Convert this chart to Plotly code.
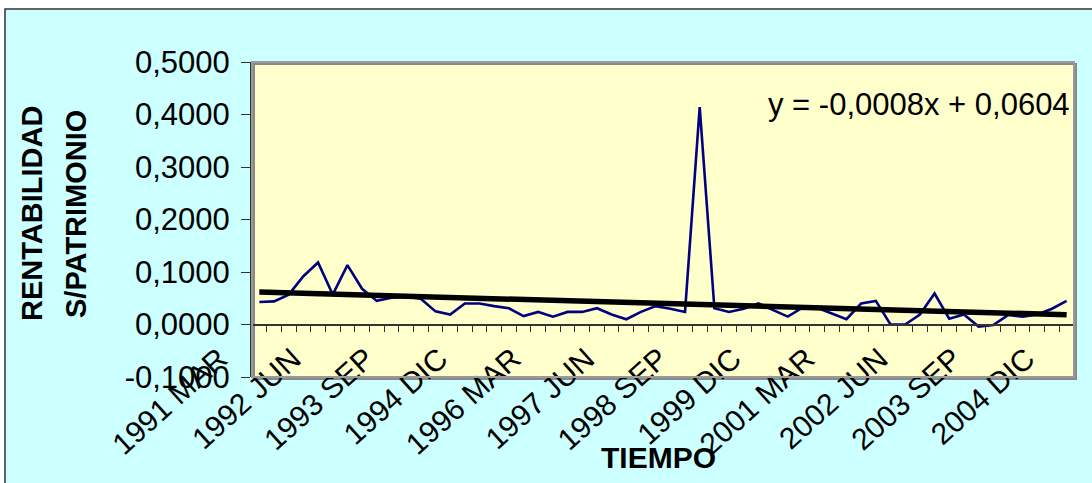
import numpy as np
import plotly.graph_objects as go

# ---------------- data ----------------
years = list(range(1991, 2005))
quarters = ["MAR", "JUN", "SEP", "DIC"]
categories = [f"{y} {q}" for y in years for q in quarters]  # 56 quarters

rentabilidad = [
    0.043, 0.044, 0.057, 0.092, 0.118, 0.057, 0.113, 0.068, 0.045, 0.051,
    0.053, 0.049, 0.025, 0.019, 0.040, 0.040, 0.035, 0.031, 0.016, 0.024,
    0.015, 0.024, 0.024, 0.031, 0.019, 0.010, 0.024, 0.035, 0.030, 0.024,
    0.414, 0.031, 0.024, 0.030, 0.040, 0.028, 0.015, 0.032, 0.032, 0.021,
    0.010, 0.040, 0.045, 0.000, 0.000, 0.019, 0.059, 0.011, 0.019, -0.004,
    -0.001, 0.018, 0.015, 0.019, 0.030, 0.045,
]

tick_labels = ["1991 MAR", "1992 JUN", "1993 SEP", "1994 DIC", "1996 MAR", "1997 JUN",
               "1998 SEP", "1999 DIC", "2001 MAR", "2002 JUN", "2003 SEP", "2004 DIC"]
tick_idx = [categories.index(t) for t in tick_labels]

y_tick_vals = [-0.1, 0.0, 0.1, 0.2, 0.3, 0.4, 0.5]
y_tick_text = ["-0,1000", "0,0000", "0,1000", "0,2000", "0,3000", "0,4000", "0,5000"]

equation_text = "y = -0,0008x + 0,0604"

# ---------------- figure ----------------
W, H = 1092, 483
L, R, T, B = 252, 18, 62, 106
PW, PH = W - L - R, H - T - B

def px_x(p):
    return (p - L) / PW

def px_y(p):
    return (H - B - p) / PH

x_idx = np.arange(len(categories))
# linear trend from least squares over the series (x = 1..n as in the equation)
coef = np.polyfit(x_idx + 1, np.array(rentabilidad), 1)
trend = np.polyval(coef, x_idx + 1)

FONT = "Arial, Liberation Sans, sans-serif"

fig = go.Figure()
fig.add_trace(go.Scatter(
    x=x_idx, y=rentabilidad, mode="lines",
    line=dict(color="#000080", width=2.6),
    text=categories, hoverinfo="text+y", showlegend=False,
))
fig.add_trace(go.Scatter(
    x=x_idx, y=trend, mode="lines",
    line=dict(color="#000000", width=5.5),
    hoverinfo="skip", showlegend=False,
))

fig.update_layout(
    width=W, height=H,
    margin=dict(l=L, r=R, t=T, b=B, pad=0),
    paper_bgcolor="#CCFFFF",
    plot_bgcolor="#FFFFCC",
    separators=",.",
    font=dict(family=FONT, color="#000000"),
    showlegend=False,
    xaxis=dict(
        range=[-0.5, len(categories) - 0.5],
        anchor="free", position=(0 - (-0.1)) / 0.6,
        showline=True, linecolor="#333333", linewidth=1.5,
        showgrid=False, zeroline=False,
        tickmode="array", tickvals=tick_idx, ticktext=tick_labels,
        ticks="", tickangle=-42,
        tickfont=dict(size=30, family=FONT, color="#000000"),
        ticklabelshift=-40, ticklabelstandoff=4,
        minor=dict(tickmode="array",
                   tickvals=[i - 0.5 for i in range(len(categories) + 1)],
                   ticks="outside", ticklen=7, tickcolor="#333333", tickwidth=1.2),
    ),
    yaxis=dict(
        range=[-0.1, 0.5],
        tickmode="array", tickvals=y_tick_vals, ticktext=y_tick_text,
        showline=True, linecolor="#333333", linewidth=2,
        showgrid=False, zeroline=False,
        ticks="outside", ticklen=9, tickcolor="#333333", tickwidth=1.2,
        tickfont=dict(size=31, family=FONT, color="#000000"),
        ticklabelstandoff=5,
    ),
)

shapes = [
    # white margin strips outside the chart box
    dict(type="rect", xref="paper", yref="paper", x0=px_x(-5), x1=px_x(W + 5),
         y0=px_y(8.5), y1=px_y(-5), fillcolor="white", line=dict(width=0), layer="below"),
    dict(type="rect", xref="paper", yref="paper", x0=px_x(-5), x1=px_x(4.5),
         y0=px_y(H + 5), y1=px_y(-5), fillcolor="white", line=dict(width=0), layer="below"),
    # chart box border
    dict(type="rect", xref="paper", yref="paper", x0=px_x(5), x1=px_x(W + 10),
         y0=px_y(H + 10), y1=px_y(9), line=dict(color="#333333", width=1.5),
         fillcolor="rgba(0,0,0,0)", layer="below"),
    # plot-area border with shadow
    dict(type="rect", xref="paper", yref="paper", x0=px_x(L + 2), x1=px_x(L + PW + 2),
         y0=px_y(T + PH + 2), y1=px_y(T + 2), line=dict(color="#8a8a8a", width=2),
         fillcolor="rgba(0,0,0,0)", layer="below"),
    dict(type="rect", xref="paper", yref="paper", x0=0, x1=1, y0=0, y1=1,
         line=dict(color="#9a9a9a", width=2), fillcolor="rgba(0,0,0,0)", layer="above"),
]
fig.update_layout(shapes=shapes)

annotations = [
    dict(text="<b>RENTABILIDAD</b>", xref="paper", yref="paper", x=px_x(32), y=px_y(214),
         textangle=-90, showarrow=False, xanchor="center", yanchor="middle",
         font=dict(size=29, family=FONT, color="#000000")),
    dict(text="<b>S/PATRIMONIO</b>", xref="paper", yref="paper", x=px_x(76), y=px_y(214),
         textangle=-90, showarrow=False, xanchor="center", yanchor="middle",
         font=dict(size=29, family=FONT, color="#000000")),
    dict(text="<b>TIEMPO</b>", xref="paper", yref="paper", x=px_x(658), y=px_y(457),
         showarrow=False, xanchor="center", yanchor="middle",
         font=dict(size=30, family=FONT, color="#000000")),
    dict(text=equation_text, xref="paper", yref="paper", x=px_x(1072), y=px_y(105),
         showarrow=False, xanchor="right", yanchor="middle",
         font=dict(size=31, family=FONT, color="#000000")),
]
fig.update_layout(annotations=annotations)

fig.write_html("out.html")
